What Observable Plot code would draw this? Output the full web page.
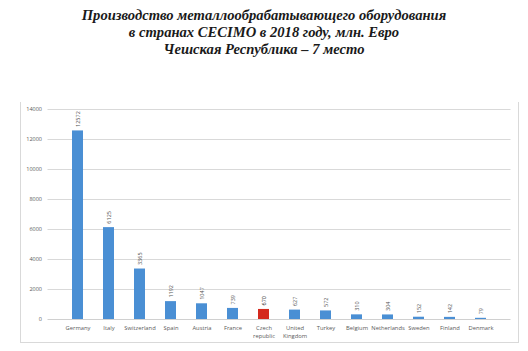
<!DOCTYPE html>
<html>
<head>
<meta charset="utf-8">
<script src="https://cdn.jsdelivr.net/npm/d3@7"></script>
<script src="https://cdn.jsdelivr.net/npm/@observablehq/plot@0.6"></script>
<style>
  html, body { margin: 0; padding: 0; background: #fff; }
  #wrap { position: relative; width: 528px; height: 351px; overflow: hidden; }
  #title { position: absolute; left: 0; top: 7px; width: 528px; text-align: center;
    font-family: "Liberation Serif", serif; font-weight: bold; font-style: italic;
    font-size: 14.6px; line-height: 17px; color: #1a1a1a; }
  #box { position: absolute; left: 20px; top: 102px; width: 497px; height: 240px;
    border-left: 1px solid #d9d9d9; border-right: 1px solid #d9d9d9; border-bottom: 1px solid #d9d9d9; }
  #chart { position: absolute; left: 0; top: 90px; }
</style>
</head>
<body>
<div id="wrap">
  <div id="title">Производство металлообрабатывающего оборудования<br>в странах CECIMO в 2018 году, млн. Евро<br>Чешская Республика – 7 место</div>
  <div id="box"></div>
  <div id="chart"></div>
</div>
<script>
const countries = ["Germany", "Italy", "Switzerland", "Spain", "Austria", "France", "Czech\nrepublic", "United\nKingdom", "Turkey", "Belgium", "Netherlands", "Sweden", "Finland", "Denmark"];
const values = [12572, 6125, 3365, 1192, 1047, 739, 670, 627, 572, 310, 304, 152, 142, 79];
const highlight = "Czech\nrepublic";
const yTicks = [0, 2000, 4000, 6000, 8000, 10000, 12000, 14000];

const data = countries.map((c, i) => ({country: c, value: values[i]}));

const chart = Plot.plot({
  width: 528,
  height: 261,
  marginTop: 19,
  marginBottom: 32,
  marginLeft: 47.5,
  marginRight: 17.5,
  style: {fontFamily: "Open Sans, sans-serif", color: "#595959", background: "transparent"},
  x: {domain: countries, padding: 0.66, label: null},
  y: {domain: [0, 14000], label: null},
  marks: [
    Plot.gridY(yTicks.filter(d => d > 0), {stroke: "#d9d9d9", strokeOpacity: 1, strokeWidth: 1}),
    Plot.ruleY([0], {stroke: "#d0d0d0", strokeWidth: 1}),
    Plot.axisY({ticks: yTicks, tickSize: 0, tickPadding: 6, fontSize: 5.5, fill: "#595959", tickFormat: d => String(d), label: null}),
    Plot.axisX({tickSize: 0, tickPadding: 5, fontSize: 5.8, lineHeight: 1.35, fill: "#595959", label: null}),
    Plot.barY(data, {x: "country", y: "value", fill: d => d.country === highlight ? "#d42a1e" : "#4a8fd4"}),
    Plot.text(data, {x: "country", y: "value", text: d => String(d.value), rotate: -90, textAnchor: "start", dy: -4,
      fontSize: 5.5, fill: d => d.country === highlight ? "#222" : "#555",
      fontWeight: d => d.country === highlight ? "bold" : "normal"})
  ]
});
document.getElementById("chart").appendChild(chart);
</script>
</body>
</html>
